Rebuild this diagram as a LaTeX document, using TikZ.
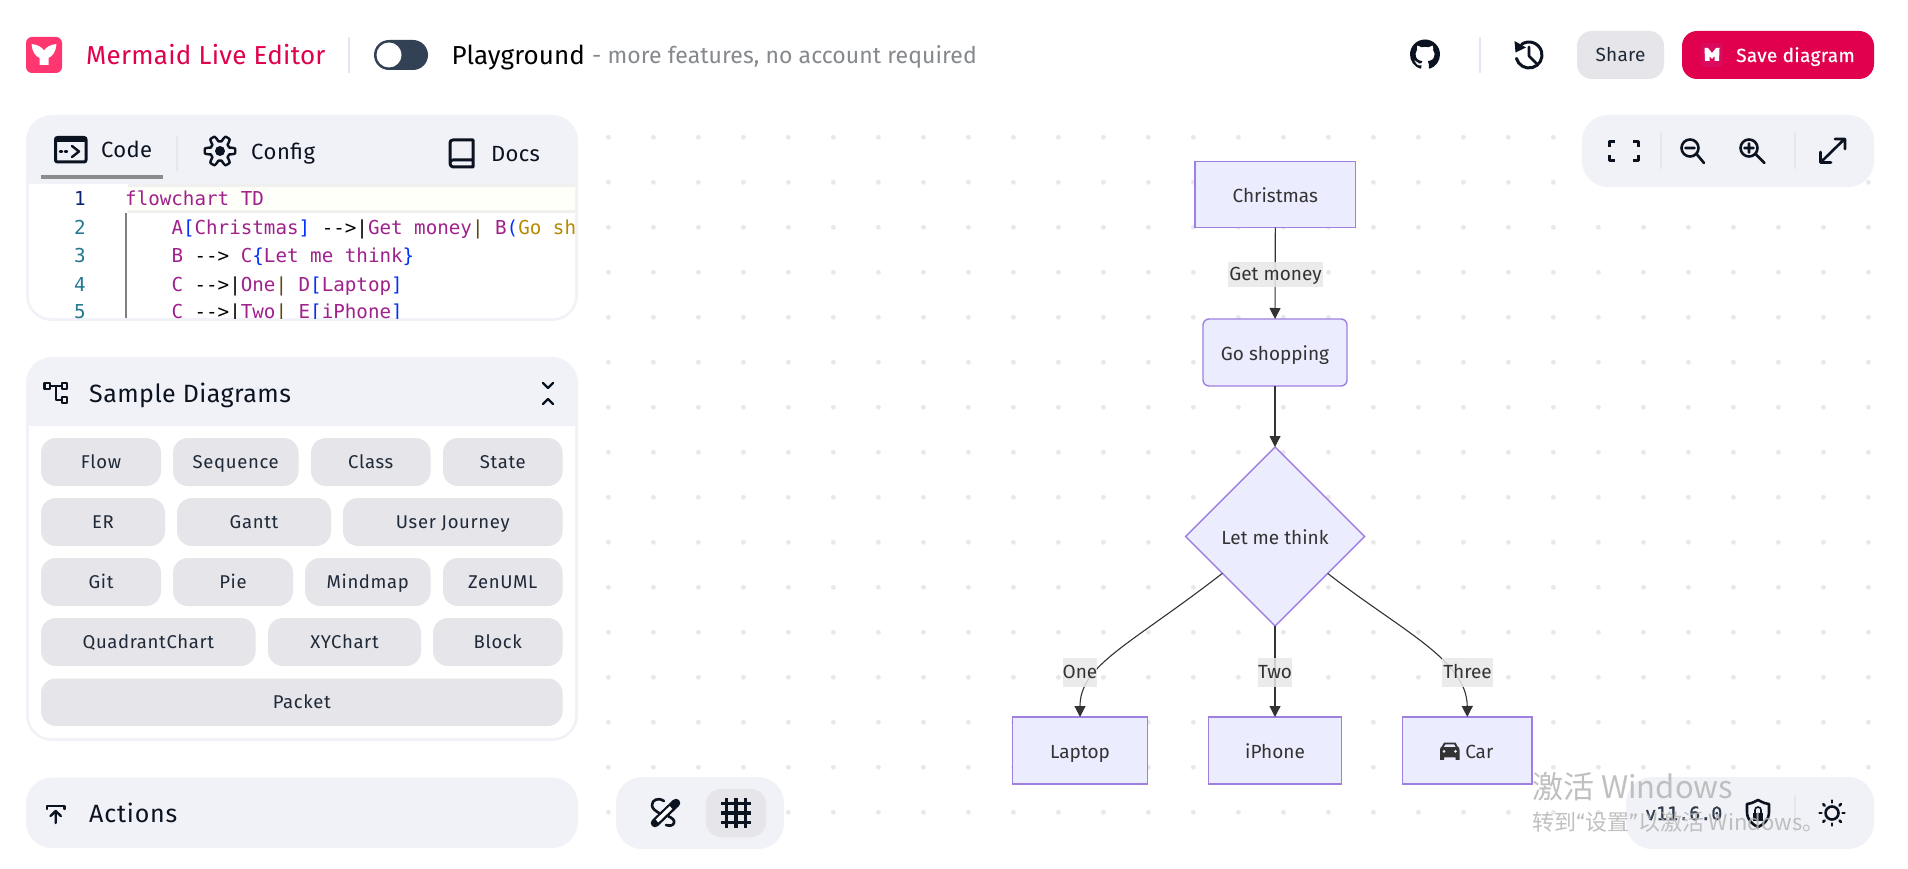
\documentclass[tikz,border=0pt]{standalone}
\usepackage{fontspec}
\setmainfont{Fira Sans}
\newfontfamily\ttf{DejaVu Sans Mono}
\newfontfamily\cjk{Noto Sans CJK SC}
\usetikzlibrary{shapes.geometric,arrows.meta,svg.path,calc}
\definecolor{panelc}{HTML}{F1F2F7}
\definecolor{btnc}{HTML}{E5E5EA}
\definecolor{inkc}{HTML}{0B1220}
\definecolor{btntext}{HTML}{1F2937}
\definecolor{redc}{HTML}{E0004D}
\definecolor{savebox}{HTML}{DA0A5C}
\definecolor{logoc}{HTML}{FF3670}
\definecolor{sepc}{HTML}{E2E8F0}
\definecolor{togc}{HTML}{334155}
\definecolor{grayt}{HTML}{85888C}
\definecolor{dotc}{HTML}{E8E8E8}
\definecolor{nodef}{HTML}{ECECFF}
\definecolor{noded}{HTML}{9F7FE0}
\definecolor{edgec}{HTML}{333333}
\definecolor{cpurple}{HTML}{A0218C}
\definecolor{cblue}{HTML}{0431FA}
\definecolor{cbrown}{HTML}{5C4A10}
\definecolor{cgold}{HTML}{B58900}
\definecolor{cnum}{HTML}{237893}
\definecolor{cnumb}{HTML}{0B216F}
\definecolor{wmark}{HTML}{B5B5B5}
\newcommand\cP[1]{\textcolor{cpurple}{#1}}
\newcommand\cB[1]{\textcolor{cblue}{#1}}
\newcommand\cK[1]{\textcolor{black}{#1}}
\newcommand\cR[1]{\textcolor{cbrown}{#1}}
\newcommand\cG[1]{\textcolor{cgold}{#1}}
\newcommand\fs[1]{\fontsize{#1}{#1}\selectfont}
\newcommand\btn[6]{%
  \fill[btnc,rounded corners=15] (#2,#3) rectangle (#4,#5);
  \node[btntxt] (#1) at ({(#2+#4)/2},{(#3+#5)/2+6.5}) {#6};}
\tikzset{
  btntxt/.style={anchor=base,inner sep=0,text=btntext,font=\fs{18.5}\addfontfeature{LetterSpace=3.5}},
  uitxt/.style={anchor=base west,inner sep=0},
  codeln/.style={anchor=base west,inner sep=0,font=\ttf\fs{19.2}},
  numln/.style={anchor=base,inner sep=0,font=\ttf\fs{19.2},text=cnum},
  sep/.style={sepc,line width=1.8},
  icon/.style={inkc,line width=2.6,line cap=round,line join=round},
  flow/.style={draw=noded,fill=nodef,line width=1.4,inner sep=0,font=\fs{19},text=edgec,outer sep=0,text height=17,text depth=1},
  elabel/.style={fill=black!9,fill opacity=.85,text opacity=1,inner sep=0,font=\fs{19},text=edgec,text height=15,text depth=3},
  edge/.style={draw=edgec,line width=1.1,-{Triangle[length=11pt,width=11pt]}},
}
\begin{document}
\begin{tikzpicture}[x=1pt,y=-1pt]
\useasboundingbox (0,0) rectangle (1908,869);
\fill[white] (0,0) rectangle (1908,869);
% dot grid
\foreach \i in {0,...,28}\foreach \j in {0,...,15}
  \fill[dotc] ({608.4+45*\i},{137.3+45*\j}) circle (2.4);

% ---------- header
\fill[logoc,rounded corners=6] (26,37) rectangle (62,73);
\fill[white] (31.5,44) .. controls (37,44.5) and (42,47) .. (44,50.5) .. controls (46,47) and (51,44.5) .. (56.5,44) .. controls (56,51) and (53,56) .. (48.5,58) -- (48.5,65) -- (39.5,65) -- (39.5,58) .. controls (35,56) and (32,51) .. (31.5,44) -- cycle;
\node[uitxt,text=redc,font=\fs{26}\addfontfeature{LetterSpace=1}] (title) at (86,65) {Mermaid Live Editor};
\draw[sep] (349,37) -- (349,73);
\fill[togc,rounded corners=15] (374,40) rectangle (428,70);
\fill[white] (389,55) circle (12.5);
\node[uitxt,text=black,font=\fs{26}\addfontfeature{LetterSpace=0.2}] (play) at (451.5,65) {Playground};
\node[uitxt,text=grayt,font=\fs{23}\addfontfeature{LetterSpace=0.3}] (playsub) at (592,64) {- more features, no account required};
% github mark
\begin{scope}[shift={(1410,39.5)},yscale=-1,scale=1.875]
\fill[inkc] svg {M8 0 C3.58 0 0 3.58 0 8 c0 3.54 2.29 6.53 5.47 7.59 c0.4 0.07 0.55 -0.17 0.55 -0.38 c0 -0.19 -0.01 -0.82 -0.01 -1.49 c-2.01 0.37 -2.53 -0.49 -2.69 -0.94 c-0.09 -0.23 -0.48 -0.94 -0.82 -1.13 c-0.28 -0.15 -0.68 -0.52 -0.01 -0.53 c0.63 -0.01 1.08 0.58 1.23 0.82 c0.72 1.21 1.87 0.87 2.33 0.66 c0.07 -0.52 0.28 -0.87 0.51 -1.07 c-1.78 -0.2 -3.64 -0.89 -3.64 -3.95 c0 -0.87 0.31 -1.59 0.82 -2.15 c-0.08 -0.2 -0.36 -1.02 0.08 -2.12 c0 0 0.67 -0.21 2.2 0.82 c0.64 -0.18 1.32 -0.27 2 -0.27 c0.68 0 1.36 0.09 2 0.27 c1.53 -1.04 2.2 -0.82 2.2 -0.82 c0.44 1.1 0.16 1.92 0.08 2.12 c0.51 0.56 0.82 1.27 0.82 2.15 c0 3.07 -1.87 3.75 -3.65 3.95 c0.29 0.25 0.54 0.73 0.54 1.48 c0 1.07 -0.01 1.93 -0.01 2.2 c0 0.21 0.15 0.46 0.55 0.38 C13.71 14.53 16 11.53 16 8 C16 3.58 12.42 0 8 0 Z};
\end{scope}
\draw[sep] (1480,37) -- (1480,73);
% history
\draw[icon,line width=3] ($(1529,55)+(165:13)$) arc[start angle=165,end angle=-125,radius=13];
\fill[inkc] (1514.5,41) -- (1515.5,52.5) -- (1526,47.5) -- cycle;
\draw[icon] (1529,47) -- (1529,56) -- (1536,63);
% share + save
\fill[btnc,rounded corners=15] (1577,31) rectangle (1664,79);
\node[anchor=base,inner sep=0,text=btntext,font=\fs{19}\addfontfeature{LetterSpace=1}] (share) at (1620.5,62) {Share};
\fill[redc,rounded corners=15] (1682,31) rectangle (1874,79);
\fill[savebox,rounded corners=4] (1700.5,43) rectangle (1723,67);
\fill[white] (1704.5,48) -- (1708,48) -- (1712,53) -- (1716,48) -- (1719.5,48) -- (1719,61) -- (1714.5,61) -- (1714.5,56) -- (1712,59) -- (1709.5,56) -- (1709.5,61) -- (1705,61) -- cycle;
\node[uitxt,text=white,font=\fs{19}\addfontfeature{LetterSpace=1.8}] (save) at (1736,62) {\addfontfeature{FakeBold=0.5}Save diagram};

% ---------- code panel
\fill[panelc,rounded corners=26] (26,115) rectangle (578,321);
\fill[white] (29,184) -- (575,184) [rounded corners=22] -- (575,318) -- (29,318) [sharp corners] -- cycle;
\draw[icon,line width=3,rounded corners=2] (55.5,137.5) rectangle (86,162);
\fill[inkc] (55,137) rectangle (86.5,142.5);
\draw[icon,line width=2.4] (60,151.5) -- (62,151.5) (65,151.5) -- (67,151.5);
\draw[icon,line width=2.4] (72,146) -- (79,151.5) -- (72,157);
\node[uitxt,text=inkc,font=\fs{22}\addfontfeature{LetterSpace=1.5}] (code) at (101,158) {Code};
\draw[black!45,line width=4] (41,176.7) -- (163,176.7);
\draw[sep] (176.7,136) -- (176.7,171);
\draw[icon,line width=2.4] plot[domain=0:360,samples=145,variable=\t] ({220+(12.5+2.8*max(-1,min(1,1.8*sin(6*\t+90))))*cos(\t)},{151+(12.5+2.8*max(-1,min(1,1.8*sin(6*\t+90))))*sin(\t)}) -- cycle;
\fill[inkc] (220,151) circle (5);
\node[uitxt,text=inkc,font=\fs{22}\addfontfeature{LetterSpace=2.5}] (config) at (251,160) {Config};
\draw[icon,line width=3] (450,163) -- (450,143) .. controls (450,141) and (451,140) .. (453,140) -- (473,140) -- (473,167) -- (453,167) .. controls (451,167) and (450,165) .. (450,163) .. controls (450,161) and (451,160) .. (453,160) -- (473,160);
\node[uitxt,text=inkc,font=\fs{22}\addfontfeature{LetterSpace=1.5}] (docs) at (491,162) {Docs};
% code
\begin{scope}
\clip (29,184) rectangle (575,318);
\fill[black!6] (127.6,184) rectangle (575,213);
\fill[white!98!yellow] (127.6,187) rectangle (575,210.5);
\draw[black!50,line width=1.4] (126,213) -- (126,318);
\node[numln,text=cnumb] (n1) at (80,205.5) {1};
\node[numln] (n2) at (80,234.5) {2};
\node[numln] (n3) at (80,262.5) {3};
\node[numln] (n4) at (80,291.5) {4};
\node[numln] (n5) at (80,318.5) {5};
\node[codeln] (l1) at (125,205.5) {\cP{flowchart TD}};
\node[codeln] (l2) at (171.3,234.5) {\cP{A}\cB{[}\cP{Christmas}\cB{]} \cK{-{}->|}\cP{Get money}\cR{|} \cP{B}\cB{(}\cG{Go shopping}\cB{)}};
\node[codeln] (l3) at (171.3,262.5) {\cP{B} \cK{-{}->} \cP{C}\cB{\{}\cP{Let me think}\cB{\}}};
\node[codeln] (l4) at (171.3,291.5) {\cP{C} \cK{-{}->|}\cP{One}\cR{|} \cP{D}\cB{[}\cP{Laptop}\cB{]}};
\node[codeln] (l5) at (171.3,318.5) {\cP{C} \cK{-{}->|}\cP{Two}\cR{|} \cP{E}\cB{[}\cP{iPhone}\cB{]}};
\end{scope}

% ---------- sample panel
\fill[panelc,rounded corners=26] (26,357) rectangle (578,741);
\fill[white] (29,426) -- (575,426) [rounded corners=22] -- (575,738) -- (29,738) [sharp corners] -- cycle;
\node[uitxt,text=inkc,font=\fs{25}\addfontfeature{LetterSpace=1.8}] (sample) at (89,402) {Sample Diagrams};
% sample icon
\draw[icon,line width=2.2] (44.5,383) rectangle (50,389) (62,383) rectangle (67,389) (62,397) rectangle (67,403);
\draw[icon,line width=2.2] (50,386) -- (62,386) (56,386) -- (56,400) -- (62,400);
% chevrons
\draw[icon,line width=2.4] (543,383) -- (548,388) -- (553,383) (543,404) -- (548,399) -- (553,404);
\btn{b1}{41}{438}{161}{486}{Flow}
\btn{b2}{173}{438}{298.5}{486}{Sequence}
\btn{b3}{311}{438}{430.5}{486}{Class}
\btn{b4}{443}{438}{562.6}{486}{State}
\btn{b5}{41}{498}{165}{546}{ER}
\btn{b6}{177}{498}{331}{546}{Gantt}
\btn{b7}{343}{498}{562.6}{546}{User Journey}
\btn{b8}{41}{558}{161}{606}{Git}
\btn{b9}{173}{558}{293}{606}{Pie}
\btn{b10}{305}{558}{430.5}{606}{Mindmap}
\btn{b11}{443}{558}{562.6}{606}{ZenUML}
\btn{b12}{41}{618}{255.6}{666}{QuadrantChart}
\btn{b13}{268}{618}{421}{666}{XYChart}
\btn{b14}{433}{618}{562.6}{666}{Block}
\btn{b15}{41}{678.5}{562.6}{726}{Packet}

% ---------- actions panel
\fill[panelc,rounded corners=26] (26,777.6) rectangle (578,848);
\draw[icon,line width=2.4] (47,809) -- (47,806) -- (64.5,806) -- (64.5,809);
\draw[icon,line width=2.4] (55.7,823) -- (55.7,811) (50.5,816) -- (55.7,811) -- (60.9,816);
\node[uitxt,text=inkc,font=\fs{25}\addfontfeature{LetterSpace=3.2}] (actions) at (89,822) {Actions};

% ---------- tool panels
\fill[panelc,rounded corners=26] (616,777) rectangle (784,849);
\fill[btnc,rounded corners=15] (706,789) rectangle (766,837);
\draw[icon,line width=2.6] (664,801) .. controls (658,797) and (652,800) .. (652,805) .. controls (652,809) and (656,811) .. (659,813);
\draw[icon,line width=2.6] (668,816) .. controls (672,818) and (675,820) .. (674,823) .. controls (673,826) and (669,826) .. (666,825);
\draw[inkc,line width=8.5,line cap=round] (655,823) -- (676,803);
\draw[white,line width=3.8,line cap=butt] (657,821) -- (671,807.5);
\draw[icon,line width=3.2,line cap=butt] (726.5,798) -- (726.5,828) (736,798) -- (736,828) (745.5,798) -- (745.5,828) (721,803.5) -- (751,803.5) (721,813) -- (751,813) (721,822.5) -- (751,822.5);

\fill[panelc,rounded corners=26] (1582,115) rectangle (1874,187);
\draw[icon,line cap=butt] (1609.5,147) -- (1609.5,141.5) -- (1615,141.5) (1633,141.5) -- (1638.5,141.5) -- (1638.5,147) (1609.5,155) -- (1609.5,160.5) -- (1615,160.5) (1633,160.5) -- (1638.5,160.5) -- (1638.5,155);
\draw[sep] (1660.6,133) -- (1660.6,169);
\draw[icon] (1690,148) circle (8.5) (1696.5,154) -- (1704,163) (1685.5,148) -- (1694.5,148);
\draw[icon] (1749,148) circle (8.5) (1755.5,154) -- (1764.5,163) (1744.5,148) -- (1753.5,148) (1749,143.5) -- (1749,152.5);
\draw[sep] (1795,133) -- (1795,169);
\draw[icon] (1821,162) -- (1844,139.5) (1835,139) -- (1845,139) -- (1845,149) (1820.5,152) -- (1820.5,162.5) -- (1831,162.5);

\fill[panelc,rounded corners=26] (1626,777) rectangle (1874,849);
\node[uitxt,text=togc!90!black,font=\ttf\fs{18.3}\addfontfeature{FakeBold=1}] (ver) at (1645,820) {v11.6.0};
\draw[icon] (1758,800) .. controls (1752,803) and (1750,804) .. (1747,804) -- (1747,812) .. controls (1747,820) and (1753,825) .. (1758,827) .. controls (1763,825) and (1769,820) .. (1769,812) -- (1769,804) .. controls (1766,804) and (1764,803) .. (1758,800) -- cycle;
\fill[inkc] (1753,813) rectangle (1763,820.5);
\draw[inkc,line width=1.6] (1755,813) -- (1755,810) arc[start angle=180,end angle=360,radius=3] -- (1761,813);
\draw[sep] (1795,795) -- (1795,832);
\draw[icon] (1832,813) circle (6.5);
\foreach \a in {0,45,...,315}
  \draw[icon] ($(1832,813)+(\a:10.5)$) -- ($(1832,813)+(\a:12.5)$);

% ---------- flowchart
\node[flow,minimum width=160.5,minimum height=66] (A) at (1275.3,194.5) {Christmas};
\node[flow,rounded corners=6,minimum width=144,minimum height=67] (B) at (1275,352.5) {Go shopping};
\node[flow,diamond,aspect=1,minimum width=179,minimum height=179] (C) at (1275,536.5) {Let me think};
\node[flow,minimum width=135,minimum height=67] (D) at (1080,750.5) {Laptop};
\node[flow,minimum width=133,minimum height=67] (E) at (1275,750.5) {iPhone};
\node[flow,minimum width=129.5,minimum height=67] (F) at (1467.3,750.5) {\hspace{24pt}Car};
% car icon
\begin{scope}[yshift=2.2pt]
\fill[edgec] (1440,762) -- (1440,752) .. controls (1440,750) and (1441,749) .. (1442,748.5) -- (1444,744.8) -- (1455.5,744.8) -- (1457.5,748.5) .. controls (1458.5,749) and (1459.5,750) .. (1459.5,752) -- (1459.5,762) -- (1455.5,762) -- (1455.5,759.5) -- (1444,759.5) -- (1444,762) -- cycle;
\fill[nodef] (1444,749) -- (1445.5,746.5) -- (1454,746.5) -- (1455.5,749) -- cycle;
\fill[nodef] (1444,753.5) circle (1.5) (1455.5,753.5) circle (1.5);
\end{scope}

\draw[edge] (A.south) -- (B.north);
\draw[edge] (B.south) -- (C.north);
\draw[edge] (C.215) .. controls (1130,645) and (1080,665) .. (D.north);
\draw[edge] (C.south) -- (E.north);
\draw[edge] (C.325) .. controls (1400,630) and (1467,660) .. (F.north);
\node[elabel,minimum width=95,minimum height=25] (lab) at (1275.5,274.5) {Get money};
\node[elabel,minimum width=34,minimum height=29] (lc1) at (1080,672.5) {One};
\node[elabel,minimum width=33.5,minimum height=29] (lc2) at (1275,672.5) {Two};
\node[elabel,minimum width=51,minimum height=29] (lc3) at (1467.5,672.5) {Three};

% ---------- watermark
\node[uitxt,text=wmark,text opacity=.85,font=\cjk\fs{31}] (wm1) at (1532,798) {激活 Windows};
\node[uitxt,text=wmark,text opacity=.85,font=\cjk\fs{22}] (wm2) at (1532,830.5) {转到{\rmfamily “}设置{\rmfamily ”}以激活 Windows。};
\end{tikzpicture}
\end{document}
